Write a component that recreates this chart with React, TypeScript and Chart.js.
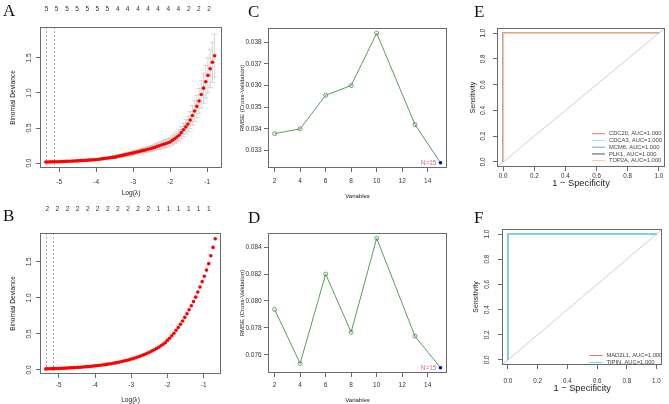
import React, { useEffect, useRef } from "react";
import { Chart, registerables } from "chart.js";

Chart.register(...registerables);

// ---------------- data ----------------
const LOG_LAMBDA = [
  -5.36, -5.3, -5.24, -5.18, -5.12, -5.06, -5.0, -4.94, -4.88, -4.82,
  -4.76, -4.7, -4.64, -4.58, -4.52, -4.46, -4.4, -4.34, -4.28, -4.22,
  -4.16, -4.1, -4.04, -3.98, -3.92, -3.86, -3.8, -3.74, -3.68, -3.62,
  -3.56, -3.5, -3.44, -3.38, -3.32, -3.26, -3.2, -3.14, -3.08, -3.02,
  -2.96, -2.9, -2.84, -2.78, -2.72, -2.66, -2.6, -2.54, -2.48, -2.42,
  -2.36, -2.3, -2.24, -2.18, -2.12, -2.06, -2.0, -1.94, -1.88, -1.82,
  -1.76, -1.7, -1.64, -1.58, -1.52, -1.46, -1.4, -1.34, -1.28, -1.22,
  -1.16, -1.1, -1.04, -0.98, -0.92, -0.86, -0.8, -0.74, -0.68,
];
const DEVIANCE_A = [
  0.015, 0.0158, 0.0167, 0.0175, 0.0183, 0.0192, 0.02,
  0.0214, 0.0229, 0.0243, 0.0258, 0.0272, 0.0286, 0.0301, 0.0315,
  0.0334, 0.0356, 0.0378, 0.0399, 0.0421, 0.0442, 0.0464, 0.0486,
  0.0514, 0.0556, 0.0598, 0.064, 0.0682, 0.0724, 0.0766, 0.0808, 0.085,
  0.0922, 0.0994, 0.1066, 0.1138, 0.121, 0.1282, 0.1354, 0.1426,
  0.15, 0.158, 0.166, 0.174, 0.181, 0.189, 0.197, 0.205,
  0.214, 0.224, 0.235, 0.246, 0.257, 0.268, 0.278, 0.289, 0.3,
  0.324, 0.348, 0.372, 0.396,
  0.434, 0.475, 0.516, 0.556,
  0.613, 0.678, 0.743, 0.808,
  0.886, 0.977, 1.068, 1.159,
  1.251, 1.344, 1.437, 1.53,
];
const DEVIANCE_SE_A = [
  0.003, 0.003, 0.003, 0.004, 0.004, 0.004, 0.004,
  0.004, 0.005, 0.005, 0.005, 0.005, 0.006, 0.006, 0.006,
  0.007, 0.007, 0.008, 0.008, 0.008, 0.009, 0.009, 0.01,
  0.01, 0.011, 0.012, 0.013, 0.014, 0.014, 0.015, 0.016, 0.017,
  0.018, 0.02, 0.021, 0.023, 0.024, 0.026, 0.027, 0.029,
  0.03, 0.032, 0.033, 0.035, 0.036, 0.038, 0.039, 0.041,
  0.043, 0.045, 0.047, 0.049, 0.051, 0.054, 0.056, 0.058, 0.06,
  0.065, 0.07, 0.074, 0.079,
  0.087, 0.095, 0.103, 0.111,
  0.123, 0.136, 0.149, 0.162,
  0.177, 0.195, 0.214, 0.232,
  0.25, 0.269, 0.287, 0.306,
];
const DEVIANCE_B = [
  0.015, 0.0159, 0.0169, 0.0179, 0.019, 0.0201, 0.0213, 0.0226, 0.024, 0.0254,
  0.027, 0.0286, 0.0303, 0.0322, 0.0341, 0.0362, 0.0383, 0.0407, 0.0431, 0.0457,
  0.0485, 0.0514, 0.0545, 0.0578, 0.0613, 0.065, 0.0689, 0.0731, 0.0775, 0.0822,
  0.0871, 0.0924, 0.098, 0.1039, 0.1101, 0.1168, 0.1238, 0.1313, 0.1392, 0.1476,
  0.1565, 0.166, 0.176, 0.1866, 0.1978, 0.2098, 0.2224, 0.2358, 0.2501, 0.2651,
  0.2811, 0.2981, 0.3161, 0.3351, 0.3553, 0.3768,
  0.41, 0.44, 0.475, 0.51, 0.55, 0.59, 0.635, 0.68, 0.73, 0.78,
  0.835, 0.89, 0.95, 1.01, 1.08, 1.15, 1.225, 1.3, 1.385, 1.475,
  1.585, 1.7, 1.82,
];
const LAMBDA_LINES_A = [-5.36, -5.14];
const LAMBDA_LINES_B = [-5.35, -5.17];
const DF_POS_A = [-5.34, -5.07, -4.79, -4.52, -4.24, -3.97, -3.7, -3.42, -3.15, -2.87, -2.6, -2.33, -2.05, -1.78, -1.5, -1.23, -0.95];
const DF_LABELS_A = [5, 5, 5, 5, 5, 5, 5, 4, 4, 4, 4, 4, 4, 4, 2, 2, 2];
const DF_POS_B = [-5.32, -5.04, -4.76, -4.48, -4.2, -3.93, -3.65, -3.37, -3.09, -2.81, -2.53, -2.25, -1.97, -1.69, -1.41, -1.14, -0.86];
const DF_LABELS_B = [2, 2, 2, 2, 2, 2, 2, 2, 2, 2, 2, 1, 1, 1, 1, 1, 1];
const LOG_LAMBDA_TICKS = [-5, -4, -3, -2, -1];
const DEVIANCE_TICKS = [0, 0.5, 1, 1.5];

const VARIABLES = [2, 4, 6, 8, 10, 13, 15];
const RMSE_C = [0.03378, 0.034, 0.03555, 0.036, 0.03842, 0.0342, 0.03243];
const RMSE_D = [0.07937, 0.07535, 0.082, 0.07768, 0.08467, 0.07738, 0.07503];
const BEST_N = 15;
const VARIABLE_TICKS = [2, 4, 6, 8, 10, 12, 14];
const RMSE_C_TICKS = [0.033, 0.034, 0.035, 0.036, 0.037, 0.038];
const RMSE_D_TICKS = [0.076, 0.078, 0.08, 0.082, 0.084];

const GENES_E = ["CDC20", "CDCA3", "MCM6", "PLK1", "TOP2A"];
const AUC_E = [1, 1, 1, 1, 1];
const GENES_F = ["MAD2L1", "TIPIN"];
const AUC_F = [1, 1];
const ROC_FPR = [0, 0, 1];
const ROC_TPR = [0, 1, 1];
const ROC_TICKS = [0, 0.2, 0.4, 0.6, 0.8, 1];

// ---------------- styles ----------------
const FONT = "'Liberation Sans', Arial, Helvetica, sans-serif";
const LINE = "#6a6a6a";
const TEXT = "#333333";
const GREEN = "#5a9a5a";
const COLORS_E = ["#e8716b", "#a6e3ea", "#5bb8a8", "#4d4d7d", "#f6c3a6"];
const COLORS_F = ["#e8716b", "#7fd0dc"];

Chart.defaults.font.family = FONT;

const boxPlugin = {
  id: "box",
  afterDatasetsDraw(chart: any) {
    const { ctx, chartArea } = chart;
    const l = Math.round(chartArea.left), t = Math.round(chartArea.top);
    const r = Math.round(chartArea.right), b = Math.round(chartArea.bottom);
    ctx.save();
    ctx.strokeStyle = LINE;
    ctx.lineWidth = 1;
    ctx.strokeRect(l + 0.5, t + 0.5, r - l - 1, b - t - 1);
    ctx.restore();
  },
};

function vLines(values: number[]) {
  return {
    id: "vlines",
    beforeDatasetsDraw(chart: any) {
      const { ctx, chartArea, scales } = chart;
      ctx.save();
      ctx.strokeStyle = "#9a9a9a";
      ctx.lineWidth = 0.8;
      ctx.setLineDash([2, 2]);
      values.forEach((v) => {
        const x = Math.round(scales.x.getPixelForValue(v)) + 0.5;
        ctx.beginPath();
        ctx.moveTo(x, chartArea.top);
        ctx.lineTo(x, chartArea.bottom);
        ctx.stroke();
      });
      ctx.restore();
    },
  };
}

function errorBars(xs: number[], mean: number[], se: number[]) {
  return {
    id: "errbars",
    beforeDatasetsDraw(chart: any) {
      const { ctx, scales } = chart;
      ctx.save();
      ctx.strokeStyle = "#c8c8c8";
      ctx.lineWidth = 0.8;
      mean.forEach((m, i) => {
        const x = scales.x.getPixelForValue(xs[i]);
        const lo = scales.y.getPixelForValue(m - se[i]);
        const hi = scales.y.getPixelForValue(m + se[i]);
        ctx.beginPath();
        ctx.moveTo(x, lo);
        ctx.lineTo(x, hi);
        ctx.moveTo(x - 2.5, lo);
        ctx.lineTo(x + 2.5, lo);
        ctx.moveTo(x - 2.5, hi);
        ctx.lineTo(x + 2.5, hi);
        ctx.stroke();
      });
      ctx.restore();
    },
  };
}

function bestLabel(text: string, x: number, y: number) {
  return {
    id: "bestlabel",
    afterDatasetsDraw(chart: any) {
      const { ctx, scales } = chart;
      ctx.save();
      ctx.font = `6.5px ${FONT}`;
      ctx.fillStyle = "#d4708a";
      ctx.textAlign = "right";
      ctx.textBaseline = "middle";
      ctx.fillText(text, scales.x.getPixelForValue(x) - 4, scales.y.getPixelForValue(y));
      ctx.restore();
    },
  };
}

function rocLegend(offsetBottom: number, step: number) {
  return {
    id: "roclegend",
    afterDraw(chart: any) {
      const { ctx, chartArea } = chart;
      const items = chart.data.datasets.filter((d: any) => d.label);
      ctx.save();
      ctx.font = `5.8px ${FONT}`;
      ctx.textBaseline = "middle";
      ctx.textAlign = "left";
      items.forEach((d: any, i: number) => {
        const y = chartArea.bottom - offsetBottom - (items.length - 1 - i) * step;
        ctx.strokeStyle = d.borderColor;
        ctx.lineWidth = 1;
        ctx.beginPath();
        ctx.moveTo(chartArea.right - 73, y);
        ctx.lineTo(chartArea.right - 60, y);
        ctx.stroke();
        ctx.fillStyle = "#444";
        ctx.fillText(d.label, chartArea.right - 56, y);
      });
      ctx.restore();
    },
  };
}

function xAxis(o: any) {
  return {
    type: "linear",
    position: "bottom",
    min: o.min,
    max: o.max,
    afterBuildTicks: (s: any) => { s.ticks = o.ticks.map((v: number) => ({ value: v })); },
    afterFit: (s: any) => { s.height = o.height; },
    grid: { display: true, drawOnChartArea: false, drawTicks: true, tickLength: 4, color: LINE, lineWidth: 1 },
    border: { display: false },
    ticks: {
      font: { family: FONT, size: o.tickSize }, color: TEXT, padding: o.tickPad,
      maxRotation: 0, minRotation: 0, autoSkip: false, callback: (v: number) => o.fmt(v),
    },
    title: {
      display: true, text: o.title, color: "#222",
      font: { family: FONT, size: o.titleSize, lineHeight: 1.2 },
      padding: { top: 0, bottom: o.titlePad },
    },
  };
}

function yAxis(o: any) {
  return {
    type: "linear",
    position: "left",
    min: o.min,
    max: o.max,
    afterBuildTicks: (s: any) => { s.ticks = o.ticks.map((v: number) => ({ value: v })); },
    afterFit: (s: any) => { s.width = o.width; },
    grid: { display: true, drawOnChartArea: false, drawTicks: true, tickLength: 4, color: LINE, lineWidth: 1 },
    border: { display: false },
    ticks: {
      font: { family: FONT, size: o.tickSize }, color: TEXT, padding: o.tickPad,
      minRotation: o.rot, maxRotation: o.rot, crossAlign: o.rot ? "center" : "near",
      autoSkip: false, callback: (v: number) => o.fmt(v),
    },
    title: {
      display: true, text: o.title, color: "#222",
      font: { family: FONT, size: o.titleSize, lineHeight: 1.2 },
      padding: { top: o.titlePad, bottom: 0 },
    },
  };
}

function dfAxis(min: number, max: number, pos: number[], labels: number[], height: number, pad: number) {
  return {
    type: "linear",
    position: "top",
    min, max,
    afterBuildTicks: (s: any) => { s.ticks = pos.map((v) => ({ value: v })); },
    afterFit: (s: any) => { s.height = height; },
    grid: { display: false },
    border: { display: false },
    ticks: {
      font: { family: FONT, size: 6.5 }, color: TEXT, padding: pad,
      maxRotation: 0, minRotation: 0, autoSkip: false,
      callback: (_v: number, i: number) => String(labels[i]),
    },
  };
}

function baseOptions(padTop: number, padRight: number, scales: any) {
  return {
    responsive: false,
    animation: false,
    devicePixelRatio: 1,
    layout: { padding: { top: padTop, right: padRight, left: 0, bottom: 0 } },
    plugins: { legend: { display: false }, tooltip: { enabled: false } },
    scales,
  };
}

const fmt1 = (v: number) => v.toFixed(1);
const fmt3 = (v: number) => v.toFixed(3);
const fmtInt = (v: number) => String(v);

function lassoConfig(which: "A" | "B") {
  const isA = which === "A";
  const dev = isA ? DEVIANCE_A : DEVIANCE_B;
  const xr = isA ? [-5.52, -0.6] : [-5.52, -0.52];
  const yr = isA ? [-0.07, 1.94] : [-0.056, 1.9];
  const plugins: any[] = [vLines(isA ? LAMBDA_LINES_A : LAMBDA_LINES_B), boxPlugin];
  if (isA) plugins.push(errorBars(LOG_LAMBDA, DEVIANCE_A, DEVIANCE_SE_A));
  return {
    type: "scatter",
    data: {
      datasets: [{
        data: dev.map((v, i) => ({ x: LOG_LAMBDA[i], y: v })),
        pointRadius: 1.8, pointBackgroundColor: "#ff0000", pointBorderWidth: 0, showLine: false,
      }],
    },
    options: baseOptions(0, isA ? 4 : 5, {
      x: xAxis({ min: xr[0], max: xr[1], ticks: LOG_LAMBDA_TICKS, fmt: fmtInt, height: isA ? 32 : 30,
        tickSize: 6.5, tickPad: isA ? 6 : 3, title: "Log(λ)", titleSize: 6.6, titlePad: isA ? 3 : 0 }),
      x2: isA ? dfAxis(xr[0], xr[1], DF_POS_A, DF_LABELS_A, 27, 6)
              : dfAxis(xr[0], xr[1], DF_POS_B, DF_LABELS_B, 33, 12),
      y: yAxis({ min: yr[0], max: yr[1], ticks: DEVIANCE_TICKS, fmt: fmt1, width: 40, tickSize: 6.5,
        tickPad: 2.5, rot: 90, title: "Binomial Deviance", titleSize: 6.6, titlePad: 9 }),
    }),
    plugins,
  };
}

function rfeConfig(which: "C" | "D") {
  const isC = which === "C";
  const vals = isC ? RMSE_C : RMSE_D;
  const bestIdx = VARIABLES.indexOf(BEST_N);
  const yr = isC ? [0.03219, 0.03866] : [0.07464, 0.08506];
  return {
    type: "line",
    data: {
      datasets: [
        {
          data: [{ x: BEST_N, y: vals[bestIdx] }],
          pointRadius: 1.8, pointBackgroundColor: "#0000ee", pointBorderWidth: 0, showLine: false,
        },
        {
          data: VARIABLES.map((v, i) => ({ x: v, y: vals[i] })),
          borderColor: GREEN, borderWidth: 1, tension: 0,
          pointRadius: (c: any) => (VARIABLES[c.dataIndex] === BEST_N ? 0 : 2),
          pointBorderColor: GREEN, pointBackgroundColor: "rgba(0,0,0,0)", pointBorderWidth: 0.9,
        },
      ],
    },
    options: baseOptions(isC ? 28 : 33, 2, {
      x: xAxis({ min: 1.48, max: 15.52, ticks: VARIABLE_TICKS, fmt: fmtInt, height: isC ? 32 : 31,
        tickSize: 6.5, tickPad: isC ? 5.8 : 4.1, title: "Variables", titleSize: 6, titlePad: 0.4 }),
      y: yAxis({ min: yr[0], max: yr[1], ticks: isC ? RMSE_C_TICKS : RMSE_D_TICKS, fmt: fmt3, width: 42,
        tickSize: 6.5, tickPad: 2.3, rot: 0, title: "RMSE (Cross-Validation)", titleSize: 6, titlePad: 12.4 }),
    }),
    plugins: [boxPlugin, bestLabel(`N=${BEST_N}`, BEST_N, vals[bestIdx])],
  };
}

function rocConfig(which: "E" | "F") {
  const isE = which === "E";
  const genes = isE ? GENES_E : GENES_F;
  const aucs = isE ? AUC_E : AUC_F;
  const colors = isE ? COLORS_E : COLORS_F;
  const lim = [-0.04, 1.04];
  const datasets: any[] = genes.map((g, i) => ({
    label: `${g}, AUC=${aucs[i].toFixed(3)}`,
    data: ROC_FPR.map((x, k) => ({ x, y: ROC_TPR[k] })),
    borderColor: colors[i], borderWidth: isE ? 1.6 : 2, showLine: true, pointRadius: 0,
    order: genes.length - i,
  }));
  datasets.push({
    data: [{ x: lim[0], y: lim[0] }, { x: lim[1], y: lim[1] }],
    borderColor: "#cfcfcf", borderWidth: 1, showLine: true, pointRadius: 0, order: 50,
  });
  return {
    type: "scatter",
    data: { datasets },
    options: baseOptions(isE ? 28 : 29, 4, {
      x: xAxis({ min: lim[0], max: lim[1], ticks: ROC_TICKS, fmt: fmt1, height: isE ? 33 : 39,
        tickSize: 6.3, tickPad: isE ? 1 : 8, title: "1 − Specificity", titleSize: 9.3, titlePad: isE ? 10.6 : 9.6 }),
      y: yAxis({ min: lim[0], max: lim[1], ticks: ROC_TICKS, fmt: fmt1, width: isE ? 45 : 50,
        tickSize: 6.3, tickPad: isE ? 5.7 : 6.5, rot: 90, title: "Sensitivity", titleSize: 7, titlePad: isE ? 17.3 : 19.8 }),
    }),
    plugins: [boxPlugin, rocLegend(isE ? 6.3 : 2.5, isE ? 6.75 : 7)],
  };
}

function ChartCanvas({ left, top, width, height, make }: any) {
  const ref = useRef<HTMLCanvasElement>(null);
  useEffect(() => {
    const chart = new Chart(ref.current as HTMLCanvasElement, make());
    return () => chart.destroy();
  }, []);
  return (
    <div style={{ position: "absolute", left, top, width, height }}>
      <canvas ref={ref} width={width} height={height} style={{ display: "block", width, height }} />
    </div>
  );
}

function Letter({ text, left, top }: any) {
  return (
    <div style={{ position: "absolute", left, top, fontFamily: "'Liberation Serif', 'Times New Roman', serif",
      fontSize: 17, lineHeight: "17px", color: "#111" }}>{text}</div>
  );
}

export default function App() {
  return (
    <div style={{ position: "fixed", left: 0, top: 0, width: 669, height: 404, background: "#fff", overflow: "hidden" }}>
      <ChartCanvas left={0} top={0} width={226} height={200} make={() => lassoConfig("A")} />
      <ChartCanvas left={0} top={200} width={226} height={204} make={() => lassoConfig("B")} />
      <ChartCanvas left={226} top={0} width={226} height={200} make={() => rfeConfig("C")} />
      <ChartCanvas left={226} top={200} width={226} height={204} make={() => rfeConfig("D")} />
      <ChartCanvas left={452} top={0} width={217} height={200} make={() => rocConfig("E")} />
      <ChartCanvas left={452} top={200} width={217} height={204} make={() => rocConfig("F")} />
      <Letter text="A" left={3} top={2} />
      <Letter text="B" left={3} top={207} />
      <Letter text="C" left={248} top={3} />
      <Letter text="D" left={248} top={209} />
      <Letter text="E" left={474} top={3} />
      <Letter text="F" left={474} top={209} />
    </div>
  );
}
